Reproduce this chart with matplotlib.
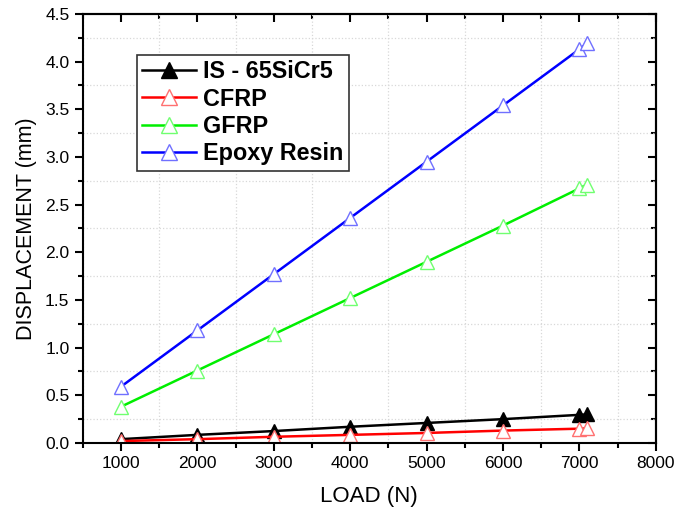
import matplotlib
matplotlib.use("Agg")
import matplotlib.pyplot as plt
from matplotlib.ticker import MultipleLocator

plt.rcParams['font.family'] = ['Liberation Sans', 'DejaVu Sans']

load = [1000, 2000, 3000, 4000, 5000, 6000, 7000, 7100]
is_65sicr5 = [0.04, 0.085, 0.125, 0.17, 0.21, 0.25, 0.295, 0.30]
cfrp = [0.02, 0.04, 0.065, 0.085, 0.105, 0.13, 0.15, 0.152]
gfrp = [0.38, 0.76, 1.14, 1.52, 1.90, 2.28, 2.67, 2.71]
epoxy = [0.59, 1.18, 1.77, 2.36, 2.95, 3.54, 4.13, 4.19]

series = [
    ("IS - 65SiCr5", is_65sicr5, "black", "black", "black"),
    ("CFRP", cfrp, "#ff0000", "white", "#ff7070"),
    ("GFRP", gfrp, "#00ee00", "white", "#70ff70"),
    ("Epoxy Resin", epoxy, "#0000ff", "white", "#7070ff"),
]

fig = plt.figure(figsize=(6.89, 5.13), dpi=100)
ax = fig.add_axes([0.120, 0.1365, 0.832, 0.8365])

for name, vals, lc, mfc, mec in series:
    ax.plot(load, vals, color=lc, lw=1.8, marker="^", markersize=10.5,
            markerfacecolor=mfc, markeredgecolor=mec, markeredgewidth=1.0,
            label=name)

ax.set_xlim(500, 8000)
ax.set_ylim(0, 4.5)
ax.xaxis.set_major_locator(MultipleLocator(1000))
ax.xaxis.set_minor_locator(MultipleLocator(500))
ax.yaxis.set_major_locator(MultipleLocator(0.5))
ax.yaxis.set_minor_locator(MultipleLocator(0.25))

ax.tick_params(which='both', direction='out', bottom=True, left=True,
               top=False, right=False, labelsize=12.5)
ax.tick_params(which='major', length=6, width=1.5)
ax.tick_params(which='minor', length=3.5, width=1.5)
ax.set_yticks([0.5 * i for i in range(10)])
ax.set_yticklabels([f"{0.5 * i:.1f}" for i in range(10)])

# inward ticks on top/right
sec_x = ax.secondary_xaxis('top')
sec_x.xaxis.set_major_locator(MultipleLocator(1000))
sec_x.xaxis.set_minor_locator(MultipleLocator(500))
sec_x.tick_params(which='both', direction='in', labeltop=False, width=1.5)
sec_x.tick_params(which='major', length=6)
sec_x.tick_params(which='minor', length=3.5)
sec_y = ax.secondary_yaxis('right')
sec_y.yaxis.set_major_locator(MultipleLocator(0.5))
sec_y.yaxis.set_minor_locator(MultipleLocator(0.25))
sec_y.tick_params(which='both', direction='in', labelright=False, width=1.5)
sec_y.tick_params(which='major', length=6)
sec_y.tick_params(which='minor', length=3.5)
sec_x.spines['top'].set_linewidth(1.5)
sec_y.spines['right'].set_linewidth(1.5)

ax.grid(which='minor', color='#d8d8d8', linestyle=':', linewidth=0.9)
ax.set_axisbelow(True)
for sp in ax.spines.values():
    sp.set_linewidth(1.5)

ax.set_xlabel("LOAD (N)", fontsize=16, labelpad=11)
ax.set_ylabel("DISPLACEMENT (mm)", fontsize=15.5, labelpad=6)

leg = ax.legend(loc='upper left', bbox_to_anchor=(0.094, 0.905), borderaxespad=0,
                prop={'weight': 'bold', 'size': 16.8}, fancybox=False,
                edgecolor='#333333', framealpha=1, handlelength=2.3,
                handletextpad=0.3, labelspacing=0.18, borderpad=0.25,
                markerscale=1.05)
leg.get_frame().set_linewidth(1.2)

fig.savefig("out.png", dpi=100)
